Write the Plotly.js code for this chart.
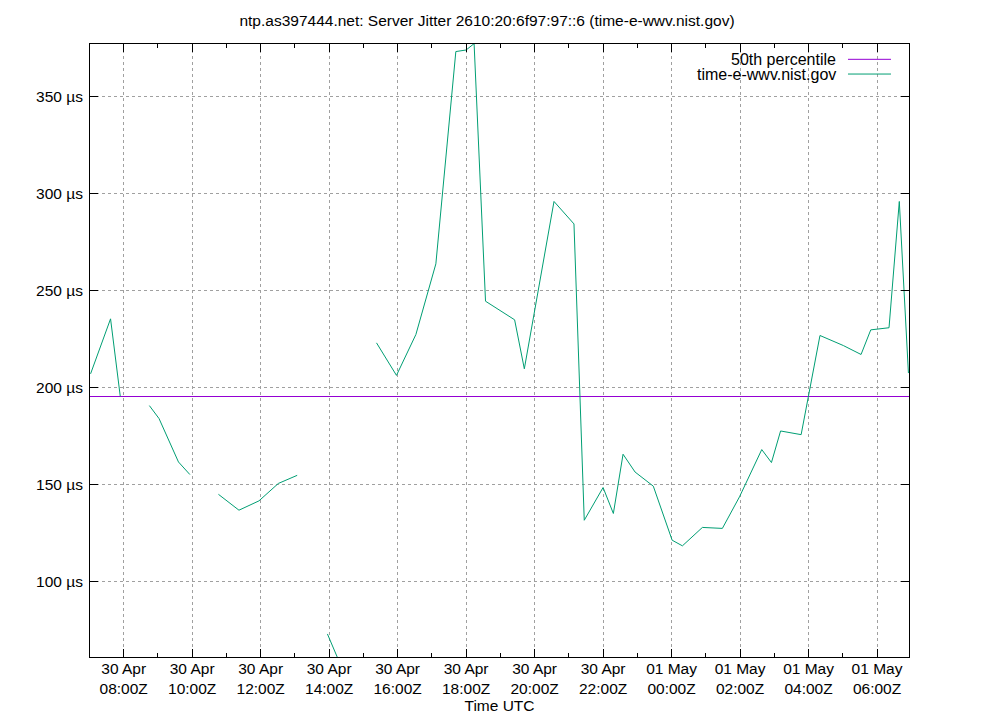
<!DOCTYPE html>
<html>
<head>
<meta charset="utf-8">
<script src="https://cdn.plot.ly/plotly-3.0.1.min.js"></script>
<style>html,body{margin:0;padding:0;background:#fff;}#chart{width:1000px;height:720px;}</style>
</head>
<body>
<div id="chart"></div>
<script>
// ---- data ----
const chartTitle = "ntp.as397444.net: Server Jitter 2610:20:6f97:97::6 (time-e-wwv.nist.gov)";
const xTitle = "Time UTC";
const seriesName = "time-e-wwv.nist.gov";
const percentileName = "50th percentile";
const percentileValue = 195.3;

const times = [
  "2024-04-30 07:02", "2024-04-30 07:37", "2024-04-30 07:54",
  "2024-04-30 08:20",
  "2024-04-30 08:45", "2024-04-30 09:02", "2024-04-30 09:36", "2024-04-30 09:56",
  "2024-04-30 10:20",
  "2024-04-30 10:46", "2024-04-30 11:22", "2024-04-30 11:57", "2024-04-30 12:31", "2024-04-30 13:04",
  "2024-04-30 13:30",
  "2024-04-30 13:57", "2024-04-30 14:29",
  "2024-04-30 15:00",
  "2024-04-30 15:23", "2024-04-30 15:58", "2024-04-30 16:32", "2024-04-30 17:07", "2024-04-30 17:42",
  "2024-04-30 18:00", "2024-04-30 18:14", "2024-04-30 18:34", "2024-04-30 19:25", "2024-04-30 19:42",
  "2024-04-30 20:34", "2024-04-30 21:09", "2024-04-30 21:27", "2024-04-30 22:00", "2024-04-30 22:18",
  "2024-04-30 22:35", "2024-04-30 22:56", "2024-04-30 23:28", "2024-05-01 00:01", "2024-05-01 00:19",
  "2024-05-01 00:54", "2024-05-01 01:29", "2024-05-01 01:59", "2024-05-01 02:38", "2024-05-01 02:55",
  "2024-05-01 03:11", "2024-05-01 03:47", "2024-05-01 04:20", "2024-05-01 05:01", "2024-05-01 05:32",
  "2024-05-01 05:49", "2024-05-01 06:21", "2024-05-01 06:39", "2024-05-01 06:55"
];
const jitter = [
  207, 235.4, 195.4,
  null,
  190.6, 183.9, 161.5, 155,
  null,
  144.8, 136.6, 141.4, 150.4, 154.6,
  null,
  72.7, 50.5,
  null,
  223, 206.2, 227.3, 263.8, 373.4,
  374.2, 377.5, 244.5, 234.9, 209.6,
  296, 284.4, 131.4, 148.3, 134.9,
  165.5, 156.3, 149, 121.1, 118.2,
  127.7, 127.2, 143.5, 167.9, 161.2,
  177.5, 175.6, 226.8, 221.6, 217,
  229.7, 230.8, 296, 207.4
];

const xRange = ["2024-04-30 07:01", "2024-05-01 06:56"];
const yRange = [60.8, 377.3];
const yTicks = [100, 150, 200, 250, 300, 350];
const yTickLabels = ["100 µs", "150 µs", "200 µs", "250 µs", "300 µs", "350 µs"];

// ---- styles ----
const percentileColor = "#9400d3";
const seriesColor = "#009e73";
const font = {family: "Liberation Sans, Arial, sans-serif", size: 15.5, color: "#000"};
const legendFont = {family: "Liberation Sans, Arial, sans-serif", size: 16, color: "#000"};

const traces = [
  {x: xRange, y: [percentileValue, percentileValue], mode: "lines", name: percentileName,
   line: {color: percentileColor, width: 1}, hoverinfo: "skip"},
  {x: times, y: jitter, mode: "lines", name: seriesName, connectgaps: false,
   line: {color: seriesColor, width: 1}}
];

const legendNames = [percentileName, seriesName];
const legendColors = [percentileColor, seriesColor];
const legendY = [0.975, 0.951];

const layout = {
  width: 1000, height: 720,
  margin: {l: 90, r: 91, t: 44, b: 63},
  paper_bgcolor: "#fff", plot_bgcolor: "#fff",
  font: font,
  showlegend: false,
  title: {text: chartTitle, font: font, xref: "container", x: 0.487, xanchor: "center",
          yref: "container", y: 0.972, yanchor: "middle"},
  xaxis: {
    type: "date", range: xRange,
    tick0: "2024-04-30 08:00", dtick: 7200000,
    tickformat: "%d %b<br>%H:%MZ",
    ticks: "inside", ticklen: 8, tickwidth: 1, tickcolor: "#000",
    ticklabelstandoff: -3,
    minor: {dtick: 3600000, tick0: "2024-04-30 08:00", ticks: "inside", ticklen: 4, tickcolor: "#000", showgrid: false},
    showline: true, linecolor: "#000", linewidth: 1, mirror: "allticks",
    showgrid: true, gridcolor: "#a0a0a0", griddash: "dot", gridwidth: 1,
    zeroline: false,
    tickfont: font,
    title: {text: xTitle, font: font, standoff: 1}
  },
  yaxis: {
    range: yRange, tickmode: "array", tickvals: yTicks, ticktext: yTickLabels,
    ticks: "inside", ticklen: 8, tickwidth: 1, tickcolor: "#000",
    ticklabelstandoff: 3,
    showline: true, linecolor: "#000", linewidth: 1, mirror: "allticks",
    showgrid: true, gridcolor: "#a0a0a0", griddash: "dot", gridwidth: 1,
    zeroline: false,
    tickfont: font
  },
  annotations: legendNames.map((n, i) => ({
    text: n, xref: "paper", yref: "paper", x: 0.913, y: legendY[i],
    xanchor: "right", yanchor: "middle", showarrow: false, font: legendFont
  })),
  shapes: legendColors.map((c, i) => ({
    type: "line", xref: "paper", yref: "paper", x0: 0.9255, x1: 0.978,
    y0: legendY[i], y1: legendY[i], line: {color: c, width: 1}
  }))
};

Plotly.newPlot("chart", traces, layout, {displayModeBar: false, staticPlot: true});
</script>
</body>
</html>
